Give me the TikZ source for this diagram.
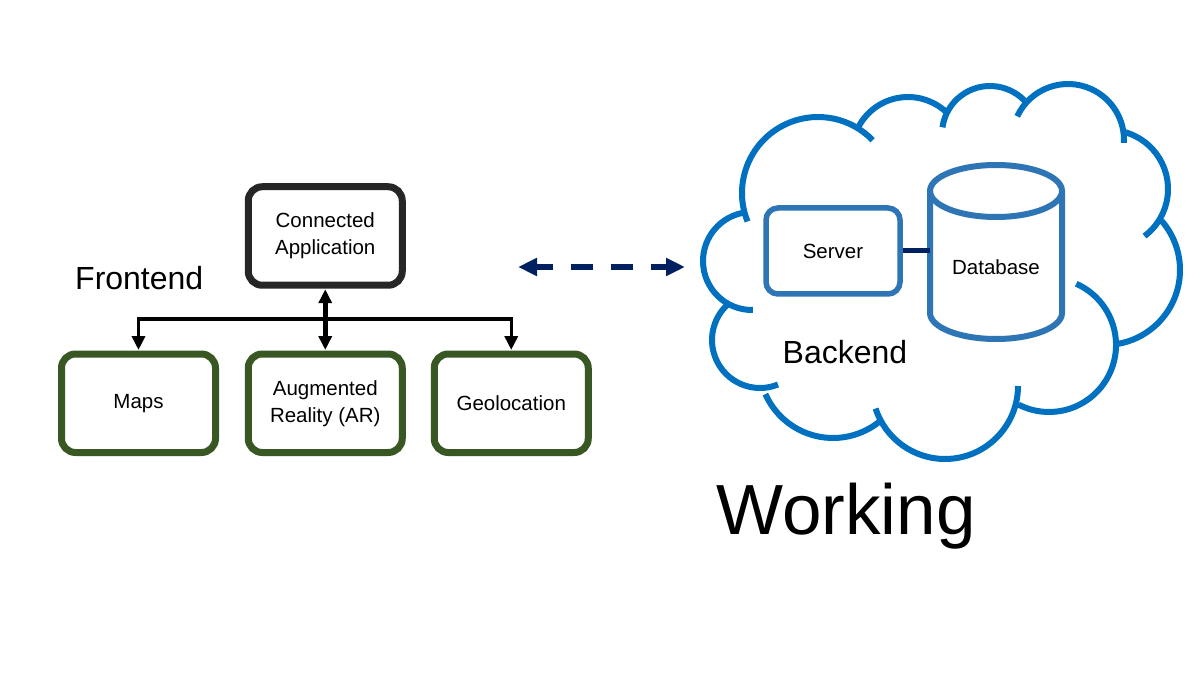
\documentclass[tikz,border=0pt]{standalone}
\usepackage{fontspec}
\setmainfont{Liberation Sans}
\usetikzlibrary{arrows.meta}
\definecolor{appgray}{HTML}{262626}
\definecolor{modgreen}{HTML}{385723}
\definecolor{navyblue}{HTML}{002060}
\definecolor{cloudblue}{HTML}{0070C0}
\definecolor{srvblue}{HTML}{2E75B6}
\begin{document}
\begin{tikzpicture}[x=1pt,y=-1pt,
  box/.style={draw, rounded corners=14pt, line width=7pt, minimum width=154pt,
    minimum height=98.5pt, align=center, inner sep=0pt,
    font=\fontsize{20.5}{27}\selectfont},
  appbox/.style={box, draw=appgray},
  modbox/.style={box, draw=modgreen},
  tip/.tip={Triangle[length=14pt,width=13pt]},
  link/.style={line width=3.5pt, -tip, shorten >=0.5pt},
  dlink/.style={line width=4.5pt, tip-tip, shorten >=0.5pt, shorten <=0.5pt},
  bigtip/.tip={Triangle[length=19pt,width=17pt]},
  sync/.style={navyblue, line width=6pt, bigtip-bigtip, dash pattern=on 22pt off 18pt, dash phase=5pt},
  puff/.style={cloudblue, line width=6pt},
  srvbox/.style={draw=srvblue, line width=5.5pt, rounded corners=12pt, minimum width=134pt,
    minimum height=86pt, inner sep=0pt, font=\fontsize{20.5}{24}\selectfont},
  dbline/.style={srvblue, line width=6pt},
  small/.style={font=\fontsize{20.5}{24}\selectfont},
]
\useasboundingbox (0,0) rectangle (1202,676);
\fill[white] (0,0) rectangle (1202,676);

% Frontend
\node[appbox] (app) at (325.25,236) {Connected\\Application};
\node[modbox] (maps) at (138.5,403.25) {Maps};
\node[modbox] (ar) at (325.25,403.25) {Augmented\\Reality (AR)};
\node[modbox] (geo) at (511.25,403.25) {Geolocation};
\node[font=\fontsize{32}{38}\selectfont, anchor=base west, inner sep=0pt] (fe) at (75,290) {Frontend};

\coordinate (bus) at (325.25,319);
\draw[link] (bus) -| (maps.north);
\draw[link] (bus) -| (geo.north);
\draw[dlink] (app.south) -- (ar.north);

% sync arrow
\coordinate (dl) at (518,267);
\coordinate (dr) at (685,267);
\draw[sync] (dl) -- (dr);

% Cloud
\draw[puff] (752,261) ++(89:49) arc[start angle=89, end angle=262, radius=49];
\draw[puff] (818,193) ++(158:76) arc[start angle=158, end angle=316, radius=76];
\draw[puff] (908,153) ++(206:56) arc[start angle=206, end angle=315, radius=56];
\draw[puff] (990,134) ++(188:48) arc[start angle=188, end angle=320, radius=48];
\draw[puff] (1068,140) ++(205:56) arc[start angle=205, end angle=363, radius=56];
\draw[puff] (1109,189) ++(284:59) arc[start angle=284, end angle=413, radius=59];
\draw[puff] (1105,270) ++(319:75) arc[start angle=319, end angle=441, radius=75];
\draw[puff] (1049,345) ++(294:67) arc[start angle=294, end angle=477, radius=67];
\draw[puff] (945,386) ++(0:73) arc[start angle=0, end angle=162, radius=73];
\draw[puff] (833,364) ++(48:74) arc[start angle=48, end angle=156, radius=74];
\draw[puff] (760,340) ++(68:48) arc[start angle=68, end angle=228, radius=48];

% Backend
\node[srvbox] (srv) at (833,251) {Server};
\draw[dbline] (996,191) ellipse[x radius=66, y radius=26];
\draw[dbline] (930,191) -- (930,313) arc[start angle=180, end angle=0, x radius=66, y radius=26] -- (1062,191);
\node[small] (db) at (996,267) {Database};
\coordinate (dbl) at (930,251);
\draw[navyblue, line width=5pt] (srv.east) -- (dbl);
\node[font=\fontsize{32}{38}\selectfont, anchor=base, inner sep=0pt] (be) at (845,363) {Backend};

\node[font=\fontsize{71}{80}\selectfont, anchor=base, inner sep=0pt] (work) at (846,534) {Working};
\end{tikzpicture}
\end{document}
